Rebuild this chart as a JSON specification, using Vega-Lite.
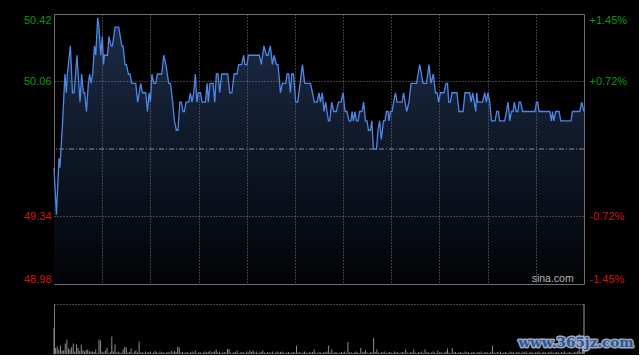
{
"$schema": "https://vega.github.io/schema/vega-lite/v6.json",
"background": "#000000",
"padding": {"left": 22, "top": 13, "right": 5, "bottom": 0},
"spacing": 18,
"config": {
  "view": {"stroke": "#6e6e6e", "strokeWidth": 1},
  "axis": {"labelFont": "Liberation Sans", "labelFontSize": 11, "titleFont": "Liberation Sans"},
  "text": {"font": "Liberation Sans"}
},
"datasets": {
"price": [
{"m":0,"p":49.60},{"m":1.5,"p":49.35},{"m":3.1,"p":49.65},{"m":3.7,"p":49.60},{"m":5.4,"p":49.85},{"m":6.8,"p":50.10},{"m":7.7,"p":50.00},{"m":8.3,"p":50.10},{"m":10.2,"p":50.25},{"m":11.5,"p":50.00},{"m":12.5,"p":50.00},{"m":14.3,"p":50.20},{"m":16.2,"p":49.95},{"m":17.2,"p":50.10},{"m":18.3,"p":50.00},{"m":19.1,"p":50.00},{"m":20.2,"p":49.90},{"m":21.4,"p":50.05},{"m":22.2,"p":50.10},{"m":23.0,"p":50.05},{"m":24.1,"p":50.10},{"m":25.2,"p":50.25},{"m":26.0,"p":50.20},{"m":27.2,"p":50.40},{"m":28.0,"p":50.35},{"m":29.1,"p":50.20},{"m":30.1,"p":50.30},{"m":30.8,"p":50.15},{"m":31.4,"p":50.20},{"m":33.3,"p":50.20},{"m":34.2,"p":50.30},{"m":35.5,"p":50.25},{"m":36.4,"p":50.25},{"m":38.0,"p":50.35},{"m":40.3,"p":50.35},{"m":42.2,"p":50.25},{"m":43.0,"p":50.25},{"m":44.2,"p":50.15},{"m":45.1,"p":50.15},{"m":46.3,"p":50.10},{"m":47.3,"p":50.10},{"m":48.4,"p":50.05},{"m":50.9,"p":50.05},{"m":52.1,"p":49.95},{"m":54.0,"p":50.05},{"m":55.0,"p":50.00},{"m":57.1,"p":50.00},{"m":58.2,"p":49.90},{"m":59.2,"p":50.00},{"m":60.0,"p":49.95},{"m":61.0,"p":50.10},{"m":62.1,"p":50.05},{"m":63.3,"p":50.05},{"m":64.4,"p":50.10},{"m":67.1,"p":50.10},{"m":68.3,"p":50.20},{"m":69.7,"p":50.15},{"m":71.4,"p":50.05},{"m":72.5,"p":50.05},{"m":73.9,"p":49.95},{"m":75.0,"p":49.85},{"m":76.2,"p":49.80},{"m":77.2,"p":49.80},{"m":78.3,"p":49.95},{"m":79.3,"p":49.95},{"m":80.3,"p":49.90},{"m":81.2,"p":49.90},{"m":82.2,"p":49.95},{"m":83.9,"p":49.95},{"m":84.9,"p":50.00},{"m":85.9,"p":49.95},{"m":87.0,"p":50.00},{"m":88.0,"p":50.10},{"m":89.0,"p":49.95},{"m":89.9,"p":50.00},{"m":91.2,"p":50.00},{"m":92.2,"p":49.95},{"m":94.3,"p":49.95},{"m":95.3,"p":50.05},{"m":96.1,"p":49.95},{"m":97.1,"p":50.05},{"m":99.0,"p":50.05},{"m":100.1,"p":49.95},{"m":101.1,"p":50.10},{"m":102.1,"p":50.10},{"m":103.2,"p":50.00},{"m":104.4,"p":50.10},{"m":108.2,"p":50.10},{"m":109.4,"p":50.00},{"m":110.8,"p":50.00},{"m":112.1,"p":50.10},{"m":113.9,"p":50.10},{"m":115.0,"p":50.15},{"m":116.9,"p":50.15},{"m":118.1,"p":50.20},{"m":118.9,"p":50.15},{"m":120.2,"p":50.15},{"m":121.0,"p":50.20},{"m":127.9,"p":50.20},{"m":129.1,"p":50.15},{"m":130.7,"p":50.25},{"m":132.3,"p":50.20},{"m":133.3,"p":50.20},{"m":134.7,"p":50.25},{"m":136.0,"p":50.15},{"m":137.0,"p":50.20},{"m":138.5,"p":50.15},{"m":139.5,"p":50.15},{"m":141.0,"p":50.00},{"m":142.2,"p":50.05},{"m":144.3,"p":50.05},{"m":145.1,"p":50.10},{"m":146.1,"p":50.10},{"m":147.2,"p":50.00},{"m":148.0,"p":50.10},{"m":149.1,"p":50.10},{"m":150.5,"p":49.95},{"m":151.7,"p":49.95},{"m":153.2,"p":50.05},{"m":154.7,"p":50.15},{"m":156.1,"p":50.05},{"m":159.7,"p":50.05},{"m":160.9,"p":50.00},{"m":162.1,"p":49.95},{"m":163.8,"p":49.95},{"m":165.0,"p":50.00},{"m":165.9,"p":49.95},{"m":167.1,"p":50.00},{"m":168.1,"p":49.90},{"m":169.2,"p":49.95},{"m":170.0,"p":49.90},{"m":170.9,"p":49.85},{"m":171.7,"p":49.85},{"m":172.9,"p":49.95},{"m":174.2,"p":49.90},{"m":175.8,"p":49.90},{"m":177.1,"p":49.95},{"m":178.7,"p":49.95},{"m":180.0,"p":50.00},{"m":181.2,"p":49.90},{"m":182.4,"p":49.90},{"m":183.7,"p":49.85},{"m":184.9,"p":49.85},{"m":185.6,"p":49.90},{"m":186.4,"p":49.85},{"m":187.4,"p":49.90},{"m":188.3,"p":49.85},{"m":189.3,"p":49.85},{"m":190.3,"p":49.90},{"m":191.8,"p":49.90},{"m":192.8,"p":49.95},{"m":193.9,"p":49.85},{"m":194.9,"p":49.85},{"m":195.8,"p":49.80},{"m":197.0,"p":49.80},{"m":197.9,"p":49.85},{"m":198.9,"p":49.70},{"m":200.8,"p":49.70},{"m":201.7,"p":49.80},{"m":202.8,"p":49.85},{"m":203.8,"p":49.75},{"m":205.1,"p":49.85},{"m":206.1,"p":49.85},{"m":207.0,"p":49.90},{"m":208.0,"p":49.90},{"m":208.6,"p":49.85},{"m":209.5,"p":49.90},{"m":210.5,"p":49.90},{"m":211.5,"p":49.95},{"m":212.6,"p":50.00},{"m":213.6,"p":49.95},{"m":216.7,"p":49.95},{"m":217.7,"p":50.00},{"m":218.6,"p":49.95},{"m":219.6,"p":49.90},{"m":221.0,"p":49.95},{"m":222.3,"p":50.05},{"m":225.7,"p":50.05},{"m":226.7,"p":50.10},{"m":227.7,"p":50.15},{"m":228.8,"p":50.10},{"m":229.8,"p":50.05},{"m":231.9,"p":50.05},{"m":232.7,"p":50.10},{"m":233.5,"p":50.15},{"m":234.7,"p":50.05},{"m":236.2,"p":50.10},{"m":237.5,"p":50.00},{"m":238.5,"p":50.00},{"m":239.5,"p":49.95},{"m":240.6,"p":50.00},{"m":242.8,"p":50.00},{"m":244.1,"p":50.05},{"m":245.0,"p":50.05},{"m":245.8,"p":49.95},{"m":246.8,"p":49.95},{"m":247.8,"p":50.00},{"m":250.9,"p":50.00},{"m":252.2,"p":49.90},{"m":254.7,"p":49.90},{"m":255.9,"p":50.00},{"m":258.8,"p":50.00},{"m":259.7,"p":49.95},{"m":260.7,"p":50.00},{"m":261.7,"p":49.95},{"m":262.6,"p":49.90},{"m":263.2,"p":50.00},{"m":263.8,"p":49.95},{"m":266.8,"p":49.95},{"m":268.2,"p":50.00},{"m":269.2,"p":49.95},{"m":270.2,"p":50.00},{"m":271.3,"p":49.95},{"m":272.4,"p":49.85},{"m":274.6,"p":49.85},{"m":275.7,"p":49.90},{"m":276.7,"p":49.90},{"m":277.5,"p":49.85},{"m":280.6,"p":49.85},{"m":281.7,"p":49.90},{"m":282.7,"p":49.95},{"m":283.8,"p":49.85},{"m":284.8,"p":49.90},{"m":285.8,"p":49.90},{"m":286.7,"p":49.95},{"m":287.7,"p":49.90},{"m":288.8,"p":49.90},{"m":289.6,"p":49.95},{"m":290.6,"p":49.95},{"m":291.7,"p":49.90},{"m":299.5,"p":49.90},{"m":300.4,"p":49.95},{"m":301.2,"p":49.95},{"m":302.0,"p":49.90},{"m":308.7,"p":49.90},{"m":309.7,"p":49.85},{"m":310.4,"p":49.90},{"m":311.2,"p":49.85},{"m":312.4,"p":49.90},{"m":314.5,"p":49.90},{"m":315.5,"p":49.85},{"m":321.9,"p":49.85},{"m":322.8,"p":49.90},{"m":327.4,"p":49.90},{"m":328.6,"p":49.95},{"m":330,"p":49.90}
],
"vol": [
{"m":0,"v":52},{"m":1,"v":12},{"m":2,"v":15},{"m":3,"v":9},{"m":4,"v":17},{"m":5,"v":7},{"m":6,"v":7},{"m":7,"v":21},{"m":8,"v":29},{"m":9,"v":11},{"m":10,"v":9},{"m":11,"v":14},{"m":12,"v":21},{"m":13,"v":5},{"m":14,"v":19},{"m":15,"v":12},{"m":16,"v":6},{"m":17,"v":19},{"m":18,"v":7},{"m":19,"v":5},{"m":20,"v":8},{"m":21,"v":9},{"m":22,"v":5},{"m":23,"v":5},{"m":24,"v":5},{"m":25,"v":4},{"m":26,"v":9},{"m":27,"v":2},{"m":28,"v":29},{"m":29,"v":27},{"m":30,"v":5},{"m":31,"v":3},{"m":32,"v":7},{"m":33,"v":12},{"m":34,"v":2},{"m":35,"v":4},{"m":36,"v":35},{"m":37,"v":5},{"m":38,"v":19},{"m":39,"v":3},{"m":40,"v":5},{"m":41,"v":3},{"m":42,"v":2},{"m":43,"v":9},{"m":44,"v":14},{"m":45,"v":13},{"m":46,"v":3},{"m":47,"v":4},{"m":48,"v":11},{"m":49,"v":2},{"m":50,"v":5},{"m":51,"v":7},{"m":52,"v":3},{"m":53,"v":25},{"m":54,"v":3},{"m":55,"v":4},{"m":56,"v":2},{"m":57,"v":5},{"m":58,"v":3},{"m":59,"v":4},{"m":60,"v":5},{"m":61,"v":2},{"m":62,"v":3},{"m":63,"v":6},{"m":64,"v":4},{"m":65,"v":2},{"m":66,"v":5},{"m":67,"v":3},{"m":68,"v":4},{"m":69,"v":2},{"m":70,"v":3},{"m":71,"v":4},{"m":72,"v":3},{"m":73,"v":7},{"m":74,"v":3},{"m":75,"v":6},{"m":76,"v":4},{"m":77,"v":15},{"m":78,"v":13},{"m":79,"v":3},{"m":80,"v":4},{"m":81,"v":2},{"m":82,"v":3},{"m":83,"v":4},{"m":84,"v":2},{"m":85,"v":3},{"m":86,"v":5},{"m":87,"v":3},{"m":88,"v":7},{"m":89,"v":2},{"m":90,"v":3},{"m":91,"v":4},{"m":92,"v":2},{"m":93,"v":3},{"m":94,"v":5},{"m":95,"v":3},{"m":96,"v":4},{"m":97,"v":6},{"m":98,"v":3},{"m":99,"v":4},{"m":100,"v":5},{"m":101,"v":9},{"m":102,"v":3},{"m":103,"v":5},{"m":104,"v":2},{"m":105,"v":3},{"m":106,"v":4},{"m":107,"v":3},{"m":108,"v":10},{"m":109,"v":10},{"m":110,"v":3},{"m":111,"v":2},{"m":112,"v":4},{"m":113,"v":3},{"m":114,"v":7},{"m":115,"v":2},{"m":116,"v":3},{"m":117,"v":4},{"m":118,"v":3},{"m":119,"v":2},{"m":120,"v":5},{"m":121,"v":3},{"m":122,"v":7},{"m":123,"v":4},{"m":124,"v":7},{"m":125,"v":3},{"m":126,"v":5},{"m":127,"v":2},{"m":128,"v":3},{"m":129,"v":4},{"m":130,"v":7},{"m":131,"v":3},{"m":132,"v":2},{"m":133,"v":4},{"m":134,"v":3},{"m":135,"v":3},{"m":136,"v":5},{"m":137,"v":2},{"m":138,"v":3},{"m":139,"v":5},{"m":140,"v":3},{"m":141,"v":4},{"m":142,"v":5},{"m":143,"v":3},{"m":144,"v":2},{"m":145,"v":3},{"m":146,"v":4},{"m":147,"v":2},{"m":148,"v":3},{"m":149,"v":4},{"m":150,"v":3},{"m":151,"v":17},{"m":152,"v":3},{"m":153,"v":4},{"m":154,"v":2},{"m":155,"v":3},{"m":156,"v":5},{"m":157,"v":3},{"m":158,"v":2},{"m":159,"v":4},{"m":160,"v":3},{"m":161,"v":4},{"m":162,"v":9},{"m":163,"v":3},{"m":164,"v":2},{"m":165,"v":4},{"m":166,"v":3},{"m":167,"v":2},{"m":168,"v":4},{"m":169,"v":3},{"m":170,"v":5},{"m":171,"v":17},{"m":172,"v":3},{"m":173,"v":9},{"m":174,"v":2},{"m":175,"v":4},{"m":176,"v":3},{"m":177,"v":2},{"m":178,"v":3},{"m":179,"v":4},{"m":180,"v":3},{"m":181,"v":5},{"m":182,"v":2},{"m":183,"v":24},{"m":184,"v":3},{"m":185,"v":4},{"m":186,"v":2},{"m":187,"v":3},{"m":188,"v":5},{"m":189,"v":3},{"m":190,"v":2},{"m":191,"v":12},{"m":192,"v":3},{"m":193,"v":4},{"m":194,"v":7},{"m":195,"v":3},{"m":196,"v":2},{"m":197,"v":4},{"m":198,"v":3},{"m":199,"v":32},{"m":200,"v":4},{"m":201,"v":9},{"m":202,"v":3},{"m":203,"v":2},{"m":204,"v":4},{"m":205,"v":3},{"m":206,"v":5},{"m":207,"v":2},{"m":208,"v":3},{"m":209,"v":4},{"m":210,"v":3},{"m":211,"v":2},{"m":212,"v":5},{"m":213,"v":3},{"m":214,"v":4},{"m":215,"v":2},{"m":216,"v":3},{"m":217,"v":4},{"m":218,"v":3},{"m":219,"v":9},{"m":220,"v":3},{"m":221,"v":2},{"m":222,"v":4},{"m":223,"v":3},{"m":224,"v":9},{"m":225,"v":3},{"m":226,"v":2},{"m":227,"v":4},{"m":228,"v":3},{"m":229,"v":5},{"m":230,"v":2},{"m":231,"v":9},{"m":232,"v":3},{"m":233,"v":4},{"m":234,"v":2},{"m":235,"v":3},{"m":236,"v":5},{"m":237,"v":3},{"m":238,"v":2},{"m":239,"v":7},{"m":240,"v":3},{"m":241,"v":4},{"m":242,"v":2},{"m":243,"v":3},{"m":244,"v":5},{"m":245,"v":11},{"m":246,"v":3},{"m":247,"v":2},{"m":248,"v":12},{"m":249,"v":3},{"m":250,"v":4},{"m":251,"v":2},{"m":252,"v":3},{"m":253,"v":4},{"m":254,"v":3},{"m":255,"v":2},{"m":256,"v":5},{"m":257,"v":3},{"m":258,"v":4},{"m":259,"v":2},{"m":260,"v":3},{"m":261,"v":4},{"m":262,"v":3},{"m":263,"v":2},{"m":264,"v":4},{"m":265,"v":3},{"m":266,"v":5},{"m":267,"v":2},{"m":268,"v":3},{"m":269,"v":4},{"m":270,"v":3},{"m":271,"v":2},{"m":272,"v":4},{"m":273,"v":17},{"m":274,"v":3},{"m":275,"v":2},{"m":276,"v":4},{"m":277,"v":3},{"m":278,"v":5},{"m":279,"v":2},{"m":280,"v":3},{"m":281,"v":4},{"m":282,"v":3},{"m":283,"v":2},{"m":284,"v":5},{"m":285,"v":3},{"m":286,"v":4},{"m":287,"v":2},{"m":288,"v":3},{"m":289,"v":4},{"m":290,"v":3},{"m":291,"v":2},{"m":292,"v":4},{"m":293,"v":3},{"m":294,"v":5},{"m":295,"v":2},{"m":296,"v":3},{"m":297,"v":4},{"m":298,"v":3},{"m":299,"v":2},{"m":300,"v":4},{"m":301,"v":3},{"m":302,"v":5},{"m":303,"v":2},{"m":304,"v":3},{"m":305,"v":4},{"m":306,"v":3},{"m":307,"v":2},{"m":308,"v":4},{"m":309,"v":3},{"m":310,"v":5},{"m":311,"v":2},{"m":312,"v":3},{"m":313,"v":4},{"m":314,"v":3},{"m":315,"v":2},{"m":316,"v":4},{"m":317,"v":3},{"m":318,"v":5},{"m":319,"v":2},{"m":320,"v":3},{"m":321,"v":4},{"m":322,"v":3},{"m":323,"v":2},{"m":324,"v":4},{"m":325,"v":3},{"m":326,"v":5},{"m":327,"v":40},{"m":328,"v":4},{"m":329,"v":22},{"m":330,"v":6}
]
},
"vconcat": [
{
  "width": 530,
  "height": 270,
  "data": {"name": "price"},
  "layer": [
    {
      "mark": {"type": "area", "fill": {"gradient": "linear", "x1": 0, "y1": 0, "x2": 0, "y2": 1, "stops": [{"offset": 0, "color": "#1c2c48"}, {"offset": 1, "color": "#020306"}]}},
      "encoding": {
        "x": {"field": "m", "type": "quantitative", "scale": {"domain": [0, 330], "nice": false, "zero": false},
              "axis": {"values": [30, 60, 90, 120, 150, 180, 210, 240, 270, 300], "labels": false, "ticks": false, "domain": false, "grid": true, "gridColor": "#7a7a7a", "gridDash": [1, 2], "title": null, "zindex": 1}},
        "y": {"field": "p", "type": "quantitative", "scale": {"domain": [48.98, 50.42], "nice": false, "zero": false},
              "axis": {"orient": "left", "values": [48.98, 49.34, 50.06, 50.42], "format": ".2f", "labelFlush": true, "ticks": false, "domain": false, "labelPadding": 3, "title": null,
                       "labelColor": {"condition": {"test": "datum.value > 49.7", "value": "#0c9a0c"}, "value": "#d01414"},
                       "grid": true, "gridColor": "#7a7a7a", "gridDash": [1, 2],
                       "gridOpacity": {"condition": {"test": "datum.value > 49 && datum.value < 50.4", "value": 1}, "value": 0}, "zindex": 1}},
        "y2": {"datum": 48.98}
      }
    },
    {
      "data": {"values": [{}]},
      "mark": {"type": "rule", "color": "#8c8c8c", "strokeDash": [5, 2, 1, 2], "strokeWidth": 1},
      "encoding": {"y": {"datum": 49.70, "type": "quantitative", "axis": null}}
    },
    {
      "mark": {"type": "line", "color": "#4d88e8", "strokeWidth": 1.3},
      "encoding": {
        "x": {"field": "m", "type": "quantitative"},
        "y": {"field": "p", "type": "quantitative",
              "axis": {"orient": "right", "values": [48.98, 49.34, 50.06, 50.42], "labelFlush": true, "ticks": false, "domain": false, "grid": false, "labelPadding": 5, "title": null,
                       "labelExpr": "(datum.value > 49.7 ? '+' : '-') + format(abs(datum.value - 49.7) / 49.7 * 100, '.2f') + '%'",
                       "labelColor": {"condition": {"test": "datum.value > 49.7", "value": "#0c9a0c"}, "value": "#d01414"}}}
      }
    },
    {
      "data": {"values": [{"t": "sina.com"}]},
      "mark": {"type": "text", "color": "#b4b4b4", "fontSize": 10.5, "align": "center", "baseline": "middle"},
      "encoding": {
        "x": {"datum": 310.5, "type": "quantitative"},
        "y": {"datum": 49.007, "type": "quantitative", "axis": null},
        "text": {"field": "t"}
      }
    }
  ],
  "resolve": {"axis": {"y": "independent"}}
},
{
  "width": 530,
  "height": 50,
  "view": {"stroke": null},
  "data": {"name": "vol"},
  "layer": [
    {
      "mark": {"type": "rule", "color": "#8c8c8c", "strokeWidth": 1},
      "encoding": {
        "x": {"field": "m", "type": "quantitative", "scale": {"domain": [0, 330], "nice": false, "zero": false}, "axis": null},
        "y": {"field": "v", "type": "quantitative", "scale": {"domain": [0, 100], "nice": false},
              "axis": {"values": [0, 50, 100], "labels": false, "ticks": false, "domain": true, "domainColor": "#7a7a7a", "grid": true, "gridColor": "#8a8a8a", "gridDash": [1, 2],
                       "gridOpacity": {"condition": {"test": "datum.value > 0", "value": 1}, "value": 0}, "title": null}},
        "y2": {"datum": 0}
      }
    },
    {
      "data": {"values": [{}]},
      "mark": {"type": "rule", "color": "#a0a0a0", "strokeWidth": 1},
      "encoding": {
        "x": {"datum": 330, "type": "quantitative"},
        "y": {"datum": 0, "type": "quantitative"},
        "y2": {"datum": 100}
      }
    },
    {
      "data": {"values": [{"t": "www.365jz.com"}]},
      "mark": {"type": "text", "font": "DejaVu Serif", "fontWeight": "bold", "fontSize": 13.5, "align": "center", "baseline": "middle", "color": "#b9c4d8", "stroke": "#b9c4d8", "strokeWidth": 3, "strokeJoin": "round", "opacity": 0.85},
      "encoding": {
        "x": {"datum": 325, "type": "quantitative"},
        "y": {"datum": 22, "type": "quantitative"},
        "text": {"field": "t"}
      }
    },
    {
      "data": {"values": [{"t": "www.365jz.com"}]},
      "mark": {"type": "text", "font": "DejaVu Serif", "fontWeight": "bold", "fontSize": 13.5, "align": "center", "baseline": "middle", "color": "#2a57a0"},
      "encoding": {
        "x": {"datum": 325, "type": "quantitative"},
        "y": {"datum": 22, "type": "quantitative"},
        "text": {"field": "t"}
      }
    }
  ]
}
]
}
